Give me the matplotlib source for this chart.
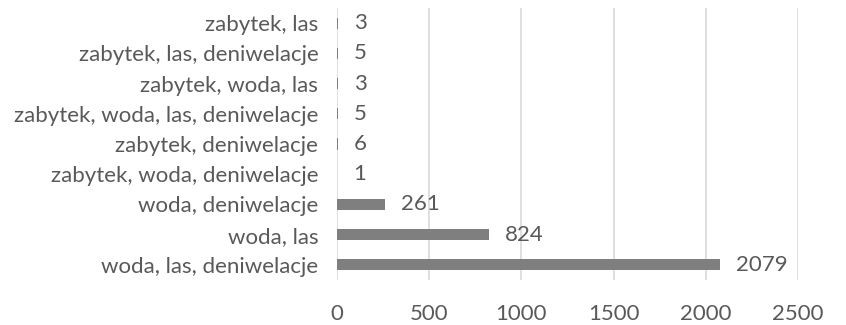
import matplotlib
matplotlib.use("Agg")
import matplotlib.pyplot as plt

categories = [
    "woda, las, deniwelacje",
    "woda, las",
    "woda, deniwelacje",
    "zabytek, woda, deniwelacje",
    "zabytek, deniwelacje",
    "zabytek, woda, las, deniwelacje",
    "zabytek, woda, las",
    "zabytek, las, deniwelacje",
    "zabytek, las",
]
values = [2079, 824, 261, 1, 6, 5, 3, 5, 3]
xticks = [0, 500, 1000, 1500, 2000, 2500]

plt.rcParams['font.family'] = ['Lato', 'DejaVu Sans']
txt = '#595959'
fs = 16

fig = plt.figure(figsize=(8.46, 3.25), dpi=100)
W, H = 846, 325
ax = fig.add_axes([337 / W, 1 - 280 / H, (798 - 337) / W, (280 - 8) / H])

y = list(range(len(categories)))
ax.barh(y, values, height=0.37, color='#7f7f7f', zorder=3)
ax.set_xlim(0, 2500)
ax.set_ylim(-0.5, len(categories) - 0.5)
ax.set_xticks(xticks)
ax.set_xticklabels([str(t) for t in xticks])
ax.set_yticks(y)
ax.set_yticklabels(categories)
ax.tick_params(axis='both', length=0, labelsize=fs, colors=txt)
ax.tick_params(axis='y', pad=13.5)
ax.tick_params(axis='x', pad=17)
ax.grid(axis='x', color='#d9d9d9', linewidth=1.2, zorder=0)
for s in ax.spines.values():
    s.set_visible(False)

for yi, v in zip(y, values):
    ax.annotate(str(v), (v, yi), xytext=(11.5, 0), textcoords='offset points',
                va='center', ha='left', fontsize=fs, color=txt)

fig.savefig('out.png', dpi=100)
